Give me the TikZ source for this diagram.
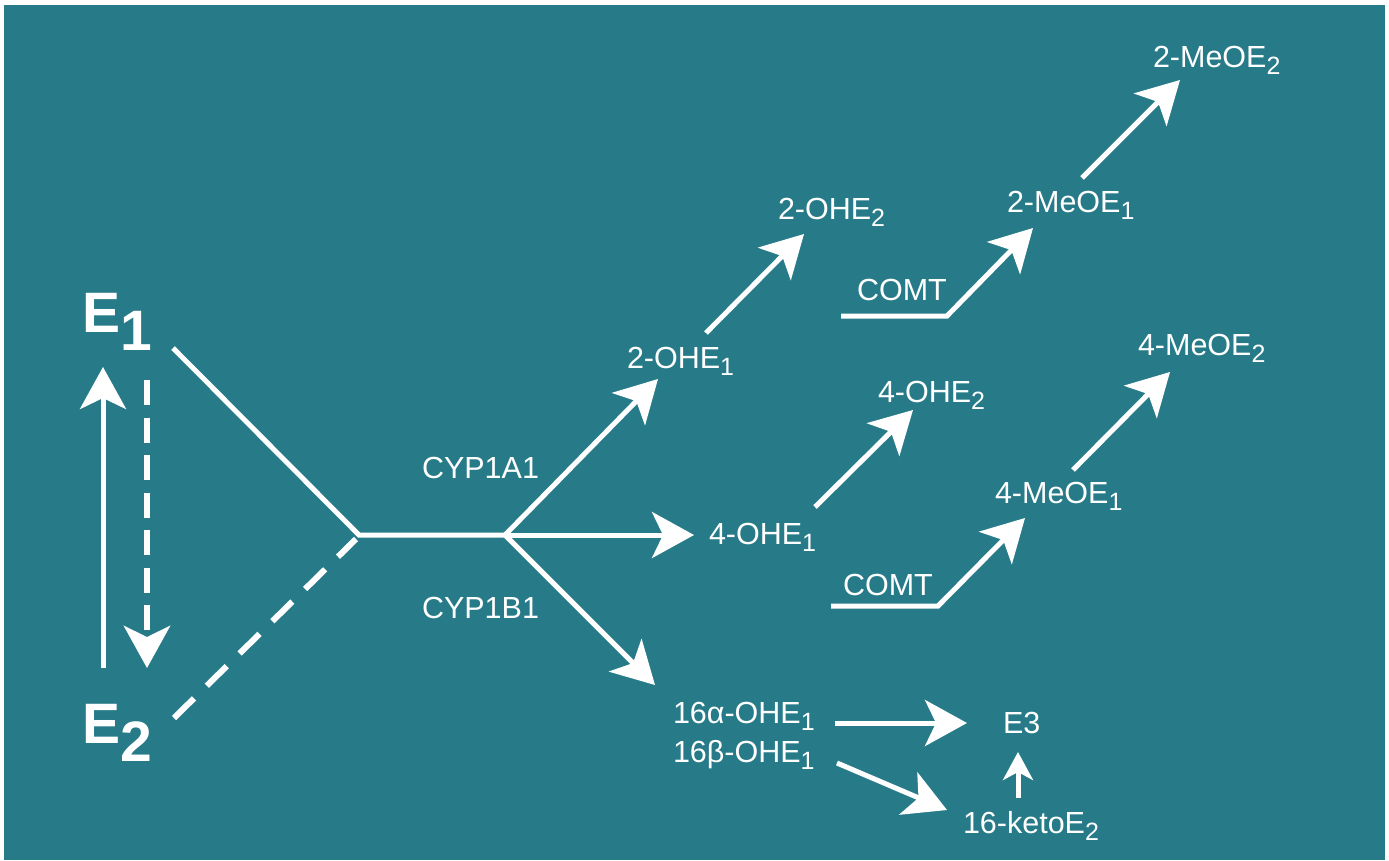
\documentclass[tikz,border=0pt]{standalone}
\usepackage{fontspec}
\setmainfont{Liberation Sans}
\usetikzlibrary{arrows.meta}
\definecolor{panel}{RGB}{39,123,137}
% lowered index digits for the small and the large labels
\newcommand\lsub[1]{\raisebox{-7pt}{\fontsize{25}{25}\selectfont #1}}
\newcommand\bsub[1]{\raisebox{-18pt}{#1}}

\begin{document}
\begin{tikzpicture}[x=1pt,y=-1pt,
  lbl/.style={text=white,font=\fontsize{30.5}{30.5}\selectfont,anchor=base west,inner sep=0pt,outer sep=0pt},
  big/.style={text=white,font=\fontsize{57}{57}\selectfont\bfseries,anchor=base west,inner sep=0pt,outer sep=0pt},
  link/.style={draw=white,line width=5pt},
  flow/.style={link,-{Stealth[length=42pt,width=46pt,inset=11pt]}},
  flowsmall/.style={link,-{Stealth[length=28pt,width=30pt,inset=8pt]}},
]
% canvas
\fill[white] (0,0) rectangle (1389,860);
\fill[panel] (4,5) rectangle (1385,860);
\useasboundingbox (0,0) rectangle (1389,860);

% estrone / estradiol
\node[big] (E1) at (82,332) {E\bsub{1}};
\node[big] (E2) at (82,743) {E\bsub{2}};

% enzyme and metabolite labels
\node[lbl] (cypa) at (422,478) {CYP1A1};
\node[lbl] (cypb) at (422,618) {CYP1B1};
\node[lbl] (oh2e1) at (627,368) {2-OHE\lsub{1}};
\node[lbl] (oh2e2) at (778,219) {2-OHE\lsub{2}};
\node[lbl] (oh4e1) at (709,544) {4-OHE\lsub{1}};
\node[lbl] (oh4e2) at (878,402) {4-OHE\lsub{2}};
\node[lbl] (comta) at (857,300) {COMT};
\node[lbl] (comtb) at (843,595) {COMT};
\node[lbl] (me2e1) at (1007,212) {2-MeOE\lsub{1}};
\node[lbl] (me2e2) at (1153,67) {2-MeOE\lsub{2}};
\node[lbl] (me4e1) at (995,503) {4-MeOE\lsub{1}};
\node[lbl] (me4e2) at (1138,355) {4-MeOE\lsub{2}};
\node[lbl] (a16) at (673,723) {16α-OHE\lsub{1}};
\node[lbl] (b16) at (673,762) {16β-OHE\lsub{1}};
\node[lbl] (e3) at (1003,733) {E3};
\node[lbl] (keto) at (963,833) {16-ketoE\lsub{2}};

% connector end points
\coordinate (upS) at (103,668);   \coordinate (upT) at (103,367);
\coordinate (dnS) at (147,380);   \coordinate (dnT) at (147,668);
\coordinate (e1out) at (173,348); \coordinate (e2out) at (174,718);
\coordinate (join) at (359,535);  \coordinate (joinb) at (356,539);
\coordinate (fork) at (505,535);
\coordinate (t2a) at (658,379);   \coordinate (t4a) at (694,535);
\coordinate (t16) at (655,685);
\coordinate (s2b) at (706,333);   \coordinate (t2b) at (804,234);
\coordinate (ca0) at (841,316);   \coordinate (ca1) at (947,316);
\coordinate (ca2) at (1033,228);
\coordinate (s2c) at (1082,178);  \coordinate (t2c) at (1180,80);
\coordinate (s4b) at (815,507);   \coordinate (t4b) at (913,410);
\coordinate (cb0) at (831,606);   \coordinate (cb1) at (938,606);
\coordinate (cb2) at (1025,518);
\coordinate (s4c) at (1073,470);  \coordinate (t4c) at (1170,372);
\coordinate (sa) at (835,723);    \coordinate (ta) at (967,723);
\coordinate (sb) at (837,763);    \coordinate (tb) at (947,810);
\coordinate (sk) at (1018,798);   \coordinate (tk) at (1018,752);

% interconversion of E1 and E2
\draw[flow] (upS) -- (upT);
\draw[flow,line width=6.5pt,dash pattern=on 25pt off 12.5pt] (dnS) -- (dnT);

% entry into the hydroxylation pathway
\draw[link] (e1out) -- (join) -- (fork);
\draw[link,line width=6pt,dash pattern=on 28pt off 18pt] (e2out) -- (joinb);

% CYP branches
\draw[flow] (fork) -- (t2a);
\draw[flow] (fork) -- (t4a);
\draw[flow] (fork) -- (t16);

% 2-hydroxy route
\draw[flow] (s2b) -- (t2b);
\draw[flow] (ca0) -- (ca1) -- (ca2);
\draw[flow] (s2c) -- (t2c);

% 4-hydroxy route
\draw[flow] (s4b) -- (t4b);
\draw[flow] (cb0) -- (cb1) -- (cb2);
\draw[flow] (s4c) -- (t4c);

% 16-hydroxy route
\draw[flow] (sa) -- (ta);
\draw[flow] (sb) -- (tb);
\draw[flowsmall] (sk) -- (tk);
\end{tikzpicture}
\end{document}
